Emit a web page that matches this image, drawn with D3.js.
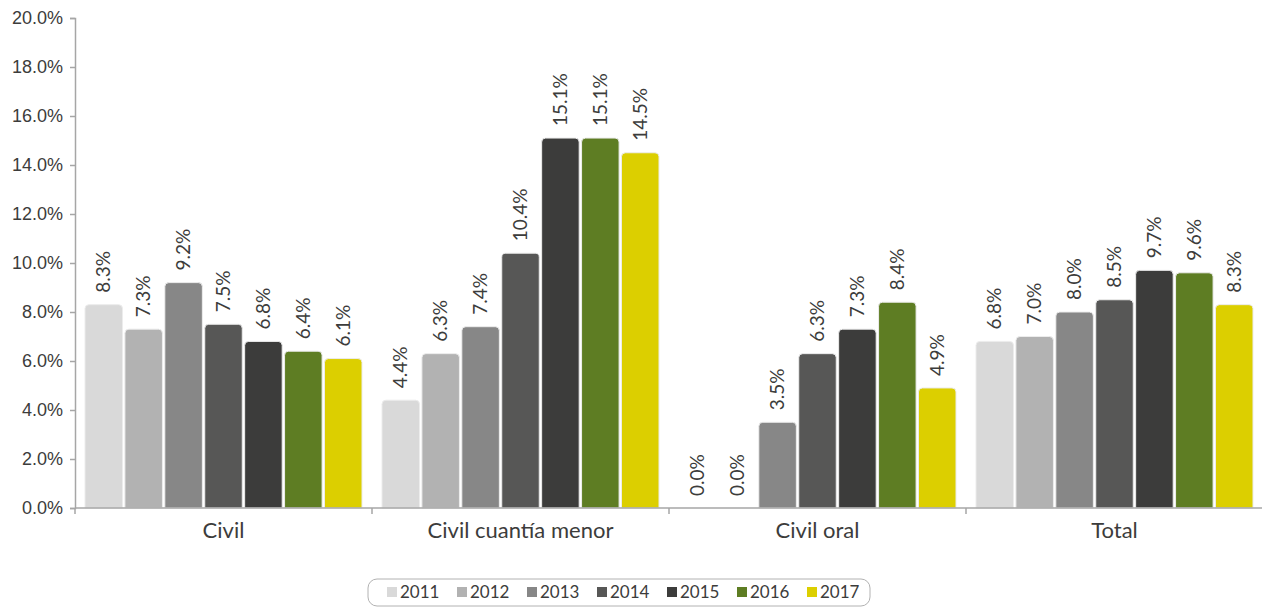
<!DOCTYPE html>
<html>
<head>
<meta charset="utf-8">
<script src="https://cdn.jsdelivr.net/npm/d3@7"></script>
<style>
  body { margin: 0; background: #fff; }
  svg { display: block; font-family: Lato, "Open Sans", sans-serif; }
</style>
</head>
<body>
<svg id="chart" width="1262" height="608"></svg>
<script>
// chart data
var categories = ["Civil", "Civil cuantía menor", "Civil oral", "Total"];
var years = ["2011", "2012", "2013", "2014", "2015", "2016", "2017"];
var values = {
  "2011": [8.3, 4.4, 0.0, 6.8],
  "2012": [7.3, 6.3, 0.0, 7.0],
  "2013": [9.2, 7.4, 3.5, 8.0],
  "2014": [7.5, 10.4, 6.3, 8.5],
  "2015": [6.8, 15.1, 7.3, 9.7],
  "2016": [6.4, 15.1, 8.4, 9.6],
  "2017": [6.1, 14.5, 4.9, 8.3]
};
var yTicks = [0, 2, 4, 6, 8, 10, 12, 14, 16, 18, 20];
var colors = ["#d9d9d9", "#b2b2b2", "#878787", "#575756", "#3c3c3b", "#5e7d23", "#dccf00"];

var svg = d3.select("#chart");
var plotLeft = 75, plotRight = 1263, plotTop = 18, plotBottom = 508;

var x0 = d3.scaleBand().domain(categories).range([plotLeft, plotRight]);
var x1 = d3.scaleBand().domain(years).range([10, x0.bandwidth() - 10]).paddingInner(0.06);
var y = d3.scaleLinear().domain([0, 20]).range([plotBottom, plotTop]);
var color = d3.scaleOrdinal().domain(years).range(colors);

// y axis
var yAxis = svg.append("g")
    .attr("transform", "translate(" + plotLeft + ",0)")
    .call(d3.axisLeft(y).tickValues(yTicks).tickSize(5).tickPadding(7)
      .tickFormat(function(d) { return d.toFixed(1) + "%"; }));
yAxis.select(".domain").attr("stroke", "#a6a6a6").attr("stroke-width", 1.5);
yAxis.selectAll(".tick line").attr("stroke", "#a6a6a6").attr("stroke-width", 1.5);
yAxis.selectAll(".tick text").attr("fill", "#3c3c3b").style("font-size", "18px");

// bars with rounded tops
function barPath(x, yTop, w, h) {
  var r = Math.min(4, h / 2, w / 2);
  if (h <= 0) return "";
  return "M" + x + "," + (yTop + h) +
    "V" + (yTop + r) +
    "Q" + x + "," + yTop + " " + (x + r) + "," + yTop +
    "H" + (x + w - r) +
    "Q" + (x + w) + "," + yTop + " " + (x + w) + "," + (yTop + r) +
    "V" + (yTop + h) + "Z";
}

var groups = svg.append("g").selectAll("g")
  .data(categories)
  .enter().append("g")
    .attr("transform", function(d) { return "translate(" + x0(d) + ",0)"; });

var cells = groups.selectAll("g.cell")
  .data(function(c, ci) { return years.map(function(yr) { return {year: yr, value: values[yr][ci]}; }); })
  .enter().append("g").attr("class", "cell");

cells.append("path")
    .attr("d", function(d) { return barPath(x1(d.year), y(d.value), x1.bandwidth(), plotBottom - y(d.value)); })
    .attr("fill", function(d) { return color(d.year); })
    .attr("stroke", "#ececec")
    .attr("stroke-width", 1);

cells.append("text")
    .attr("transform", function(d) {
      return "translate(" + (x1(d.year) + x1.bandwidth() / 2) + "," + (y(d.value) - 12) + ") rotate(-90)";
    })
    .attr("dy", "0.35em")
    .attr("fill", "#3c3c3b")
    .style("font-size", "19px")
    .text(function(d) { return d.value.toFixed(1) + "%"; });

// x axis
var xAxis = svg.append("g")
    .attr("transform", "translate(0," + plotBottom + ")");
xAxis.append("line")
    .attr("x1", plotLeft).attr("x2", plotRight)
    .attr("stroke", "#a6a6a6").attr("stroke-width", 1.5);
xAxis.selectAll("line.sep")
  .data(categories)
  .enter().append("line")
    .attr("class", "sep")
    .attr("x1", function(d) { return x0(d); })
    .attr("x2", function(d) { return x0(d); })
    .attr("y1", 0).attr("y2", 6)
    .attr("stroke", "#a6a6a6").attr("stroke-width", 1.5);
xAxis.selectAll("text")
  .data(categories)
  .enter().append("text")
    .attr("x", function(d) { return x0(d) + x0.bandwidth() / 2; })
    .attr("y", 30)
    .attr("text-anchor", "middle")
    .attr("fill", "#3c3c3b")
    .style("font-size", "22px")
    .text(function(d) { return d; });

// legend
var legend = svg.append("g");
legend.append("rect")
    .attr("x", 368).attr("y", 579).attr("width", 502).attr("height", 27)
    .attr("rx", 9)
    .attr("fill", "#fff").attr("stroke", "#b2b2b2").attr("stroke-width", 1);
var legendX = d3.scalePoint().domain(years).range([387, 807]);
var items = legend.selectAll("g.item")
  .data(years)
  .enter().append("g").attr("class", "item")
    .attr("transform", function(d) { return "translate(" + legendX(d) + ",587)"; });
items.append("rect")
    .attr("width", 10).attr("height", 10)
    .attr("fill", function(d) { return color(d); });
items.append("text")
    .attr("x", 13).attr("y", 5).attr("dy", "0.35em")
    .attr("fill", "#3c3c3b")
    .style("font-size", "17px")
    .text(function(d) { return d; });
</script>
</body>
</html>
